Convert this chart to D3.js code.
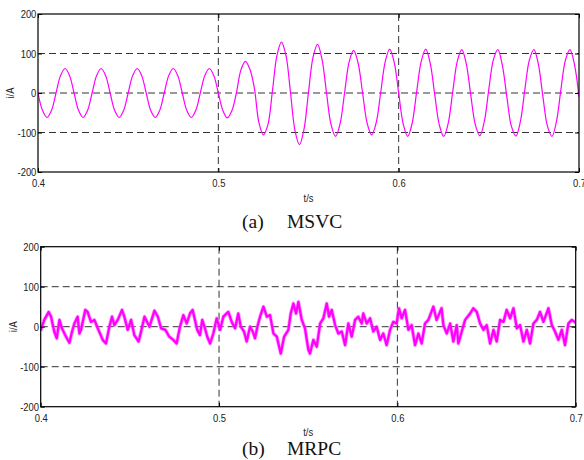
<!DOCTYPE html>
<html lang="en">
<head>
    <meta charset="UTF-8">
    <title>MSVC / MRPC current</title>
    <style>
        html, body {
            margin: 0;
            padding: 0;
            background: #fff;
        }
        svg {
            display: block;
        }
        .tick text {
            font-family: "Liberation Sans", Arial, sans-serif;
            font-size: 11.5px;
            fill: #222;
        }
        .ax-label {
            font-family: "Liberation Sans", Arial, sans-serif;
            font-size: 11.5px;
            fill: #222;
        }
        .caption {
            font-family: "Liberation Serif", "Times New Roman", serif;
            font-size: 19.5px;
            fill: #111;
        }
        .grid {
            stroke: #333;
            stroke-width: 1;
            stroke-dasharray: 7,4;
        }
    </style>
    <script src="https://d3js.org/d3.v7.min.js"></script>
</head>
<body>
    <svg width="584" height="460"></svg>
    <script>
        // axis settings
        var xTicks = [0.4, 0.5, 0.6, 0.7];
        var yTicks = [-200, -100, 0, 100, 200];
        var xGrid = [0.5, 0.6];
        var yGrid = [-100, 0, 100];

        // (a) MSVC - sampled every 2.5 ms from 0.400 s to 0.700 s
        var msvcStart = 0.4, msvcStep = 0.0025;
        var msvcCurrent = [
            0, -44, -62, -44, 0, 44, 62, 44,
            0, -44, -62, -44, 0, 44, 62, 44,
            0, -44, -62, -44, 0, 44, 62, 44,
            0, -44, -62, -44, 0, 44, 62, 44,
            0, -44, -62, -44, 0, 44, 62, 44,
            0, -44, -63, -45, 0, 58, 80, 60,
            12, -75, -106, -80, 5, 95, 129, 95,
            2, -95, -131, -92, 2, 90, 123, 85,
            0, -80, -110, -78, 0, 78, 108, 76,
            0, -76, -106, -76, 0, 78, 111, 78,
            0, -78, -110, -76, 4, 80, 111, 75,
            -4, -80, -110, -76, 4, 80, 110, 74,
            -6, -80, -108, -72, 10, 84, 110, 70,
            -10, -84, -109, -72, 10, 84, 110, 72,
            -10, -84, -110, -72, 10, 84, 110, 72,
            -10
        ];

        // (b) MRPC
        var mrpcTime = [
            0.4000, 0.4020, 0.4045, 0.4058, 0.4076, 0.4090, 0.4105, 0.4119, 0.4142, 0.4161,
            0.4176, 0.4189, 0.4207, 0.4217, 0.4226, 0.4250, 0.4263, 0.4282, 0.4301, 0.4320,
            0.4348, 0.4366, 0.4385, 0.4400, 0.4413, 0.4432, 0.4456, 0.4469, 0.4488, 0.4507,
            0.4525, 0.4549, 0.4563, 0.4582, 0.4591, 0.4610, 0.4638, 0.4657, 0.4675, 0.4699,
            0.4721, 0.4744, 0.4762, 0.4781, 0.4800, 0.4819, 0.4837, 0.4852, 0.4865, 0.4878,
            0.4893, 0.4906, 0.4921, 0.4934, 0.4950, 0.4968, 0.4987, 0.5006, 0.5024, 0.5052,
            0.5071, 0.5090, 0.5108, 0.5122, 0.5140, 0.5155, 0.5174, 0.5189, 0.5202, 0.5215,
            0.5230, 0.5249, 0.5268, 0.5286, 0.5305, 0.5324, 0.5346, 0.5365, 0.5389, 0.5402,
            0.5417, 0.5432, 0.5445, 0.5464, 0.5482, 0.5501, 0.5510, 0.5529, 0.5548, 0.5567,
            0.5585, 0.5604, 0.5617, 0.5632, 0.5651, 0.5669, 0.5688, 0.5707, 0.5725, 0.5744,
            0.5763, 0.5781, 0.5800, 0.5809, 0.5828, 0.5847, 0.5865, 0.5884, 0.5903, 0.5921,
            0.5940, 0.5959, 0.5977, 0.5996, 0.6009, 0.6024, 0.6043, 0.6062, 0.6080, 0.6099,
            0.6118, 0.6136, 0.6155, 0.6174, 0.6202, 0.6220, 0.6248, 0.6258, 0.6277, 0.6296,
            0.6314, 0.6333, 0.6342, 0.6361, 0.6380, 0.6408, 0.6426, 0.6445, 0.6464, 0.6483,
            0.6501, 0.6520, 0.6539, 0.6557, 0.6576, 0.6595, 0.6613, 0.6632, 0.6651, 0.6670,
            0.6688, 0.6707, 0.6726, 0.6744, 0.6763, 0.6782, 0.6800, 0.6819, 0.6847, 0.6866,
            0.6884, 0.6903, 0.6922, 0.6940, 0.6959, 0.6978, 0.7000
        ];
        var mrpcCurrent = [
            -10, 17, 37, 25, -12, -29, 17, -4, -25, -40,
            -12, 8, 25, -17, -8, 42, 37, 12, 17, -4,
            -33, -42, 0, 25, 4, 17, 42, 25, -8, 17,
            -21, -37, -12, 25, 17, 0, 40, 25, -4, -8,
            -25, -33, -42, 0, 29, 8, 33, 42, 17, -8,
            -21, 17, -4, -25, -42, -17, 21, -8, 25, 37,
            12, -4, 33, 0, -12, -37, 0, -12, -29, 0,
            25, 50, 25, 29, -17, -25, -67, -25, -8, 33,
            58, 33, 62, 17, -4, -58, -67, -33, -50, 8,
            21, 58, 25, 42, 4, -17, -12, -46, 8, -25,
            17, 25, 8, 33, 8, 21, -12, 0, -33, -17,
            -46, -8, 12, 8, 46, 21, 42, -8, 4, -46,
            -17, -42, 8, 17, 50, 17, 46, 4, -17, 8,
            -37, 4, -42, -12, 17, 33, 46, 37, 8, -8,
            4, -42, -8, -37, 17, 12, 42, 21, 46, -4,
            4, -37, -8, -42, 8, 17, 37, 12, 46, 4,
            -12, -33, -8, -46, 8, 17, 10
        ];

        var msvcData = msvcCurrent.map(function (v, k) {
            return { t: msvcStart + k * msvcStep, v: v };
        });
        var mrpcData = mrpcTime.map(function (t, k) {
            return { t: t, v: mrpcCurrent[k] };
        });

        var svg = d3.select("svg");
        var narrow = "scale(0.82,1)"; // labels in the figure use a condensed face

        function drawPanel(p) {
            var x = d3.scaleLinear().domain([0.4, 0.7]).range([p.left, p.right]);
            var y = d3.scaleLinear().domain([-200, 200]).range([p.bottom, p.top]);
            var g = svg.append("g");

            g.append("clipPath").attr("id", p.id + "-clip")
                .append("rect")
                .attr("x", p.left).attr("y", p.top)
                .attr("width", p.right - p.left).attr("height", p.bottom - p.top);

            // dashed grid
            g.selectAll(".hgrid").data(yGrid).enter().append("line")
                .attr("class", "grid")
                .attr("x1", p.left).attr("x2", p.right)
                .attr("y1", d => y(d)).attr("y2", d => y(d));
            g.selectAll(".vgrid").data(xGrid).enter().append("line")
                .attr("class", "grid")
                .attr("x1", d => x(d)).attr("x2", d => x(d))
                .attr("y1", p.top).attr("y2", p.bottom);

            // the current trace
            var line = d3.line()
                .x(d => x(d.t))
                .y(d => y(d.v))
                .curve(p.curve);
            var lg = g.append("g").attr("clip-path", "url(#" + p.id + "-clip)");
            if (p.halo) {
                lg.append("path").datum(p.data)
                    .attr("fill", "none")
                    .attr("stroke", "#ff55ff")
                    .attr("stroke-opacity", 0.55)
                    .attr("stroke-width", p.halo)
                    .attr("stroke-linejoin", "round")
                    .attr("d", line);
            }
            lg.append("path").datum(p.data)
                .attr("fill", "none")
                .attr("stroke", "#ff00ff")
                .attr("stroke-width", p.width)
                .attr("stroke-linejoin", "round")
                .attr("d", line);

            // axes, ticks inside like matlab
            var fmt = d => String(d);
            g.append("g")
                .attr("transform", "translate(0," + p.bottom + ")")
                .call(d3.axisBottom(x).tickValues(xTicks).tickSize(-4).tickPadding(7).tickFormat(fmt));
            g.append("g")
                .attr("transform", "translate(" + p.left + ",0)")
                .call(d3.axisLeft(y).tickValues(yTicks).tickSize(-4).tickPadding(2).tickFormat(fmt));
            g.append("g")
                .attr("transform", "translate(0," + p.top + ")")
                .call(d3.axisTop(x).tickValues(xTicks).tickSize(-4).tickFormat(""));
            g.append("g")
                .attr("transform", "translate(" + p.right + ",0)")
                .call(d3.axisRight(y).tickValues(yTicks).tickSize(-4).tickFormat(""));
            g.selectAll(".domain").remove();
            g.selectAll(".tick line").attr("stroke", "#000");
            g.selectAll(".tick text").attr("transform", narrow);

            g.append("rect")
                .attr("x", p.left).attr("y", p.top)
                .attr("width", p.right - p.left).attr("height", p.bottom - p.top)
                .attr("fill", "none")
                .attr("stroke", "#000")
                .attr("stroke-width", 1.2);

            // labels
            g.append("text").attr("class", "ax-label")
                .attr("text-anchor", "middle")
                .attr("transform", "translate(" + (p.left - 24) + "," + ((p.top + p.bottom) / 2) + ") rotate(-90) " + narrow)
                .text("i/A");
            g.append("text").attr("class", "ax-label")
                .attr("text-anchor", "middle")
                .attr("transform", "translate(" + ((p.left + p.right) / 2) + "," + (p.bottom + p.tsGap) + ") " + narrow)
                .text("t/s");

            g.append("text").attr("class", "caption")
                .attr("x", 242).attr("y", p.captionY)
                .text(p.tag);
            g.append("text").attr("class", "caption")
                .attr("x", 287).attr("y", p.captionY)
                .text(p.name);
        }

        drawPanel({
            id: "msvc", left: 38, right: 579, top: 14, bottom: 172,
            data: msvcData, curve: d3.curveCatmullRom.alpha(0.5),
            width: 1.2, halo: 0, tsGap: 30,
            captionY: 228, tag: "(a)", name: "MSVC"
        });
        drawPanel({
            id: "mrpc", left: 40.7, right: 575.7, top: 246.7, bottom: 406.7,
            data: mrpcData, curve: d3.curveLinear,
            width: 2.3, halo: 3.8, tsGap: 29,
            captionY: 455, tag: "(b)", name: "MRPC"
        });
    </script>
</body>
</html>
